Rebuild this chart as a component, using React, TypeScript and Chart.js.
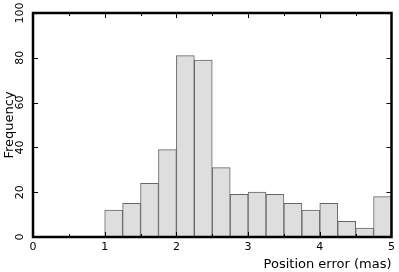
import React, { useEffect, useRef } from "react";
import { Chart, registerables } from "chart.js";
Chart.register(...registerables);

const binStarts = [1.0, 1.25, 1.5, 1.75, 2.0, 2.25, 2.5, 2.75, 3.0, 3.25, 3.5, 3.75, 4.0, 4.25, 4.5, 4.75];
const frequencies = [12, 15, 24, 39, 81, 79, 31, 19, 20, 19, 15, 12, 15, 7, 4, 18];
const binWidth = 0.25;
const xTickValues = [0, 1, 2, 3, 4, 5];
const yTickValues = [0, 20, 40, 60, 80, 100];
const xTitle = "Position error (mas)";
const yTitle = "Frequency";

const FONT = "'DejaVu Sans', sans-serif";

const framePlugin = {
  id: "frame",
  afterDraw(chart: any) {
    const { ctx, chartArea: a, scales } = chart;
    const xs = scales.x, ys = scales.y;
    ctx.save();
    ctx.strokeStyle = "#000";
    ctx.lineWidth = 1;
    ctx.beginPath();
    for (let v = 0.5; v < 5; v += 0.5) {
      const px = Math.round(xs.getPixelForValue(v)) + 0.5;
      const len = Number.isInteger(v) ? 5 : 3;
      ctx.moveTo(px, a.bottom); ctx.lineTo(px, a.bottom - len);
      ctx.moveTo(px, a.top); ctx.lineTo(px, a.top + len);
    }
    for (const v of yTickValues) {
      if (v === 0 || v === 100) continue;
      const py = Math.round(ys.getPixelForValue(v)) + 0.5;
      ctx.moveTo(a.left, py); ctx.lineTo(a.left + 5, py);
      ctx.moveTo(a.right, py); ctx.lineTo(a.right - 5, py);
    }
    ctx.stroke();
    ctx.lineWidth = 2.5;
    ctx.strokeRect(a.left, a.top, a.right - a.left, a.bottom - a.top);
    ctx.restore();
  },
};

export default function App() {
  const ref = useRef<HTMLCanvasElement>(null);
  useEffect(() => {
    const data = binStarts.map((s, i) => ({ x: s + binWidth / 2, y: frequencies[i] }));
    const chart = new Chart(ref.current!, {
      type: "bar",
      data: {
        datasets: [
          {
            data: data as any,
            backgroundColor: "#dedede",
            borderColor: "#666",
            borderWidth: 1,
            barPercentage: 1,
            categoryPercentage: 1,
          },
        ],
      },
      options: {
        animation: false,
        responsive: false,
        maintainAspectRatio: false,
        layout: { padding: { top: 13, right: 6, left: 0, bottom: 0 } },
        plugins: { legend: { display: false }, tooltip: { enabled: false } },
        scales: {
          x: {
            type: "linear",
            offset: false,
            min: 0,
            max: 5,
            afterBuildTicks: (s: any) => { s.ticks = xTickValues.map((v) => ({ value: v })); },
            afterFit: (s: any) => { s.height = 35; },
            grid: { display: false, drawTicks: false, offset: false },
            border: { display: false },
            ticks: { color: "#000", font: { family: FONT, size: 11 }, padding: 4, maxRotation: 0, minRotation: 0 },
            title: { display: true, text: xTitle, align: "end", color: "#000", font: { family: FONT, size: 13 }, padding: { top: 3, bottom: 0 } },
          },
          y: {
            min: 0,
            max: 100,
            afterBuildTicks: (s: any) => { s.ticks = yTickValues.map((v) => ({ value: v })); },
            afterFit: (s: any) => { s.width = 33; },
            grid: { display: false, drawTicks: false },
            border: { display: false },
            ticks: { color: "#000", font: { family: FONT, size: 11 }, padding: 2, minRotation: 90, maxRotation: 90, crossAlign: "center" },
            title: { display: true, text: yTitle, color: "#000", font: { family: FONT, size: 13 }, padding: { top: 2, bottom: 0 } },
          },
        },
      },
      plugins: [framePlugin],
    });
    return () => chart.destroy();
  }, []);
  return (
    <div style={{ position: "fixed", left: 0, top: 0, width: 399, height: 272, background: "#fff" }}>
      <canvas ref={ref} width={399} height={272} style={{ width: 399, height: 272 }} />
    </div>
  );
}
